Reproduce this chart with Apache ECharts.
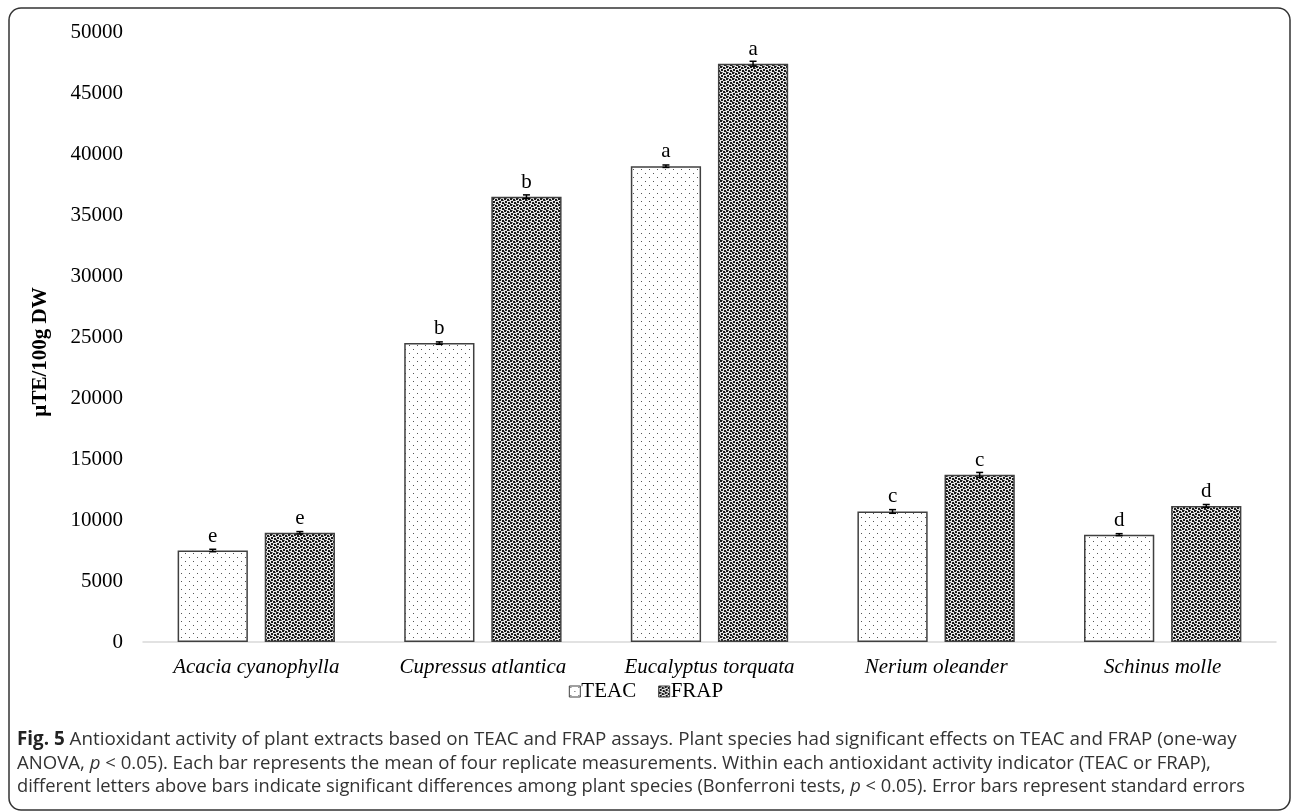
<!DOCTYPE html>
<html>
<head>
<meta charset="utf-8">
<script src="https://cdn.jsdelivr.net/npm/echarts@6/dist/echarts.min.js"></script>
<style>
html,body{margin:0;padding:0;background:#fff;}
#c{width:1292px;height:812px;}
</style>
</head>
<body>
<div id="c"></div>
<script>
const categories = ['Acacia cyanophylla', 'Cupressus atlantica', 'Eucalyptus torquata', 'Nerium oleander', 'Schinus molle'];
const teacValues = [7500, 24500, 39000, 10700, 8800];
const frapValues = [8950, 36500, 47400, 13700, 11150];
const teacErrors = [100, 100, 100, 150, 80];
const frapErrors = [100, 150, 200, 200, 120];
const teacLetters = ['e', 'b', 'a', 'c', 'd'];
const frapLetters = ['e', 'b', 'a', 'c', 'd'];
const yMin = 0, yMax = 50000, yStep = 5000;
const seriesNames = ['TEAC', 'FRAP'];
// caption lines: segments [text, style]
const captionLines = [
  [['Fig. 5', 'b'], [' Antioxidant activity of plant extracts based on TEAC and FRAP assays. Plant species had significant effects on TEAC and FRAP (one-way', 'n']],
  [['ANOVA, ', 'n'], ['p', 'i'], [' < 0.05). Each bar represents the mean of four replicate measurements. Within each antioxidant activity indicator (TEAC or FRAP),', 'n']],
  [['different letters above bars indicate significant differences among plant species (Bonferroni tests, ', 'n'], ['p', 'i'], [' < 0.05). Error bars represent standard errors', 'n']]
];
const captionWidths = [1220, 1195, 1229];

const serif = '"Liberation Serif", "Times New Roman", serif';
const sans = '"Open Sans", "Noto Sans", sans-serif';
const BAR_W = 0.31, BAR_GAP = 0.24;

function makePattern(kind) {
  const c = document.createElement('canvas');
  if (kind === 'light') {
    c.width = 8; c.height = 8;
    const g = c.getContext('2d');
    g.fillStyle = '#ffffff'; g.fillRect(0, 0, 8, 8);
    g.fillStyle = '#555555';
    g.fillRect(1, 1, 1, 1);
    g.fillRect(5, 5, 1, 1);
  } else {
    c.width = 6; c.height = 6;
    const g = c.getContext('2d');
    g.fillStyle = '#e8e8e8'; g.fillRect(0, 0, 6, 6);
    g.fillStyle = '#1a1a1a';
    g.fillRect(0, 0, 2, 2);
    g.fillRect(3, 1, 2, 2);
    g.fillRect(1, 3, 2, 2);
    g.fillRect(4, 4, 2, 2);
    g.fillStyle = '#666';
    g.fillRect(2, 0, 1, 1);
    g.fillRect(5, 2, 1, 1);
    g.fillRect(0, 5, 1, 1);
  }
  return { image: c, repeat: 'repeat' };
}

const measureCtx = document.createElement('canvas').getContext('2d');
function fontFor(kind, size) {
  if (kind === 'b') return 'bold ' + size + 'px ' + sans;
  if (kind === 'i') return 'italic ' + size + 'px ' + sans;
  return size + 'px ' + sans;
}
function lineWidth(segs, size) {
  let w = 0;
  segs.forEach(s => { measureCtx.font = fontFor(s[1], size); w += measureCtx.measureText(s[0]).width; });
  return w;
}

function captionGraphics() {
  const out = [];
  captionLines.forEach((segs, li) => {
    const base = 19;
    const w0 = lineWidth(segs, base);
    const size = Math.max(16, Math.min(20, base * captionWidths[li] / w0));
    const rich = {
      b: { fontWeight: 'bold', fontFamily: sans, fontSize: size, fill: '#222' },
      i: { fontStyle: 'italic', fontFamily: sans, fontSize: size, fill: '#333' },
      n: { fontFamily: sans, fontSize: size, fill: '#333' }
    };
    const text = segs.map(s => '{' + s[1] + '|' + s[0].replace(/[{}|]/g, '') + '}').join('');
    out.push({
      type: 'text',
      x: 17,
      y: 740 + li * 23.5,
      z: 100,
      style: {
        text: text,
        fontFamily: sans,
        fontSize: size,
        verticalAlign: 'middle',
        fill: '#333',
        rich: rich
      }
    });
  });
  return out;
}

function errSeries(values, errors, sign) {
  return {
    type: 'custom',
    silent: true,
    z: 5,
    data: values.map((v, i) => [i, v, errors[i]]),
    encode: { x: 0, y: 1 },
    renderItem: function (params, api) {
      const i = api.value(0), v = api.value(1), e = api.value(2);
      const bandW = api.size([1, 0])[0];
      const bw = bandW * BAR_W;
      const off = sign * bw * (1 + BAR_GAP) / 2;
      const top = api.coord([i, v + e]);
      const bot = api.coord([i, v - e]);
      const x = top[0] + off;
      const style = { stroke: '#000', lineWidth: 1.5 };
      return {
        type: 'group',
        children: [
          { type: 'line', shape: { x1: x, y1: top[1], x2: x, y2: bot[1] }, style: style },
          { type: 'line', shape: { x1: x - 3.5, y1: top[1], x2: x + 3.5, y2: top[1] }, style: style },
          { type: 'line', shape: { x1: x - 3.5, y1: bot[1], x2: x + 3.5, y2: bot[1] }, style: style }
        ]
      };
    }
  };
}

function barSeries(name, values, letters, errors, pattern) {
  return {
    name: name,
    type: 'bar',
    barWidth: (BAR_W * 100) + '%',
    barGap: (BAR_GAP * 100) + '%',
    data: values,
    itemStyle: { color: pattern, borderColor: '#404040', borderWidth: 1.5 },
    label: {
      show: true,
      position: 'top',
      distance: 4,
      formatter: p => letters[p.dataIndex],
      fontFamily: serif,
      fontSize: 21,
      color: '#000'
    },
    emphasis: { disabled: true }
  };
}

const chart = echarts.init(document.getElementById('c'), null, { renderer: 'canvas' });
const lightP = makePattern('light');
const darkP = makePattern('dark');

chart.setOption({
  animation: false,
  backgroundColor: '#fff',
  grid: { left: 143, right: 16, top: 32, bottom: 170, containLabel: false },
  legend: {
    data: seriesNames,
    bottom: 105,
    left: 'center',
    icon: 'rect',
    itemWidth: 11,
    itemHeight: 11,
    itemGap: 22,
    textStyle: { fontFamily: serif, fontSize: 21, color: '#000', padding: [0, 0, 0, -4] },
    itemStyle: { borderColor: '#404040', borderWidth: 1 }
  },
  xAxis: {
    type: 'category',
    data: categories,
    axisLine: { lineStyle: { color: '#d9d9d9', width: 1.5 } },
    axisTick: { show: false },
    axisLabel: { fontFamily: serif, fontStyle: 'italic', fontSize: 21, color: '#000', margin: 15 }
  },
  yAxis: {
    type: 'value',
    min: yMin,
    max: yMax,
    interval: yStep,
    name: 'µTE/100g DW',
    nameLocation: 'middle',
    nameGap: 92,
    nameRotate: 90,
    nameTextStyle: { fontFamily: serif, fontWeight: 'bold', fontSize: 21, color: '#000', padding: [0, 30, 0, 0] },
    axisLine: { show: false },
    axisTick: { show: false },
    splitLine: { show: false },
    axisLabel: { fontFamily: serif, fontSize: 21, color: '#000', margin: 20, formatter: v => String(v) }
  },
  series: [
    barSeries('TEAC', teacValues, teacLetters, teacErrors, lightP),
    barSeries('FRAP', frapValues, frapLetters, frapErrors, darkP),
    errSeries(teacValues, teacErrors, -1),
    errSeries(frapValues, frapErrors, 1)
  ],
  graphic: [
    {
      type: 'rect',
      silent: true,
      z: 100,
      shape: { x: 9, y: 8, width: 1281, height: 802, r: 12 },
      style: { fill: 'none', stroke: '#333', lineWidth: 1.5 }
    }
  ].concat(captionGraphics())
});
</script>
</body>
</html>
